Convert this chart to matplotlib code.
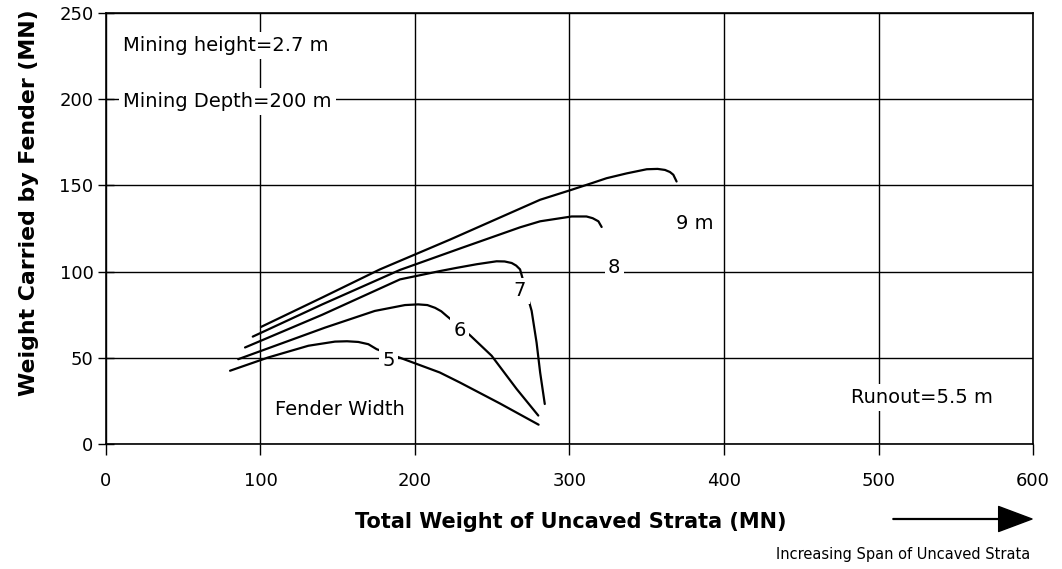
import matplotlib
matplotlib.use("Agg")
import matplotlib.pyplot as plt

# ---- data ----
x_ticks = [0, 100, 200, 300, 400, 500, 600]
y_ticks = [0, 50, 100, 150, 200, 250]

fender_widths = ["5", "6", "7", "8", "9 m"]

w5_x = [80.3, 105, 131, 148.2, 156, 163.3, 169.8, 175.2, 191, 216, 229, 255, 280]
w5_y = [42.5, 50.2, 57.0, 59.4, 59.6, 59.2, 57.9, 55.0, 49.8, 41.5, 35.7, 23.5, 11.2]

w6_x = [85.6, 141.7, 174, 193.5, 202, 208, 213, 217, 220.5, 235.6, 249.6, 265.8, 279.8]
w6_y = [49.2, 67.5, 77.2, 80.6, 81.0, 80.6, 79.0, 77.0, 74.3, 63.1, 51.2, 31.9, 16.5]

w7_x = [90, 140, 190.3, 216, 227, 240, 252.8, 258, 262.6, 265.5, 268, 275.5, 278.7, 281, 284]
w7_y = [56.0, 75.0, 95.5, 100.3, 102.2, 104.3, 106.0, 105.9, 105.0, 103.5, 101.3, 77.2, 58.8, 41.5, 23.2]

w8_x = [95, 140, 190.3, 230, 268, 281, 301.4, 311, 315, 318.7, 320.8]
w8_y = [62.3, 81.0, 101.0, 113.7, 125.7, 129.2, 132.0, 132.0, 131.0, 129.2, 125.9]

w9_x = [100.3, 140, 177.3, 222.7, 281, 301.4, 315, 324, 337, 350, 357, 361.8, 365, 367.2, 369.3]
w9_y = [67.9, 85.0, 101.3, 118.6, 141.7, 147.5, 151.5, 154.2, 157.0, 159.4, 159.6, 159.0, 157.8, 156.2, 152.3]

label_x = [182.7, 229, 268, 329, 381]
label_y = [48.7, 66, 89, 102.5, 128]

notes = ["Mining height=2.7 m", "Mining Depth=200 m", "Fender Width", "Runout=5.5 m"]
notes_x = [11, 11, 151.5, 528]
notes_y = [231, 198.5, 20, 27]
notes_ha = ["left", "left", "center", "center"]

plt.rcParams['font.family'] = ['DejaVu Sans']

fig = plt.figure(figsize=(10.62, 5.69), dpi=100)
ax = fig.add_axes([0.0998, 0.2197, 0.8729, 0.7573])

curves = [(w5_x, w5_y), (w6_x, w6_y), (w7_x, w7_y), (w8_x, w8_y), (w9_x, w9_y)]
for cx, cy in curves:
    ax.plot(cx, cy, color='black', lw=1.6, zorder=3,
            solid_capstyle='round', solid_joinstyle='round')

wbox = dict(facecolor='white', edgecolor='none', pad=2.5)
for lab, lx, ly in zip(fender_widths, label_x, label_y):
    ax.text(lx, ly, lab, fontsize=14, ha='center', va='center', zorder=5, bbox=wbox)

for t, nx, ny, ha in zip(notes, notes_x, notes_y, notes_ha):
    ax.text(nx, ny, t, fontsize=14, ha=ha, va='center', zorder=5,
            bbox=dict(facecolor='white', edgecolor='none', pad=3))

ax.set_xlim(0, 600)
ax.set_ylim(0, 250)
ax.set_xticks(x_ticks)
ax.set_yticks(y_ticks)
ax.set_xticklabels([str(v) for v in x_ticks], fontsize=13)
ax.set_yticklabels([str(v) for v in y_ticks], fontsize=13)
ax.tick_params(axis='x', direction='out', length=8, width=1, pad=12, colors='black')
ax.tick_params(axis='y', direction='inout', length=12, width=1, pad=3, colors='black')
ax.grid(True, color='black', lw=1.0, zorder=1)
ax.set_axisbelow(True)
for s in ax.spines.values():
    s.set_color('black')
    s.set_linewidth(1.2)

fig.text(0.027, 0.643, "Weight Carried by Fender (MN)", rotation=90, fontsize=15.8,
         fontweight='bold', ha='center', va='center')
fig.text(571 / 1062, 1 - 522 / 569, "Total Weight of Uncaved Strata (MN)", fontsize=15,
         fontweight='bold', ha='center', va='center')

ax.annotate('', xy=(1032 / 1062, 1 - 519 / 569), xytext=(893 / 1062, 1 - 519 / 569),
            xycoords='figure fraction', textcoords='figure fraction',
            arrowprops=dict(facecolor='black', edgecolor='black', width=0.6,
                            headwidth=18, headlength=24, shrink=0))
fig.text(1030 / 1062, 1 - 555 / 569, "Increasing Span of Uncaved Strata", fontsize=10.5,
         ha='right', va='center')

fig.savefig("out.png", dpi=100)
